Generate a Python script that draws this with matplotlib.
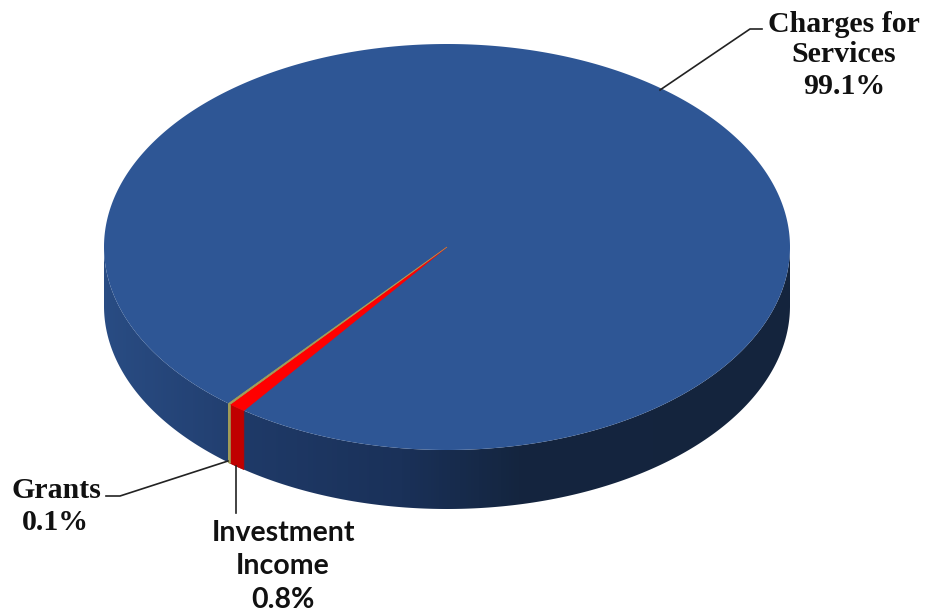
import numpy as np
import matplotlib
matplotlib.use('Agg')
import matplotlib.pyplot as plt
from matplotlib.patches import Polygon

labels = ['Charges for\nServices', 'Investment\nIncome', 'Grants']
shares = [99.1, 0.8, 0.1]
pct_text = ['99.1%', '0.8%', '0.1%']
top_colors = ['#2e5695', '#ff0000', '#a3a259']
side_colors = ['#2a4f88', '#c00000', '#a09c58']

# pie geometry, in pixels
cx, cy = 447, 247
rx, ry = 343, 203
depth = 59
start = 129.2   # degrees, measured on screen with y pointing down

fig = plt.figure(figsize=(9.26, 6.14), dpi=100)
ax = fig.add_axes([0, 0, 1, 1])
ax.axis('off')


def rim(a0, a1):
    t = np.radians(np.linspace(a0, a1, max(int(abs(a1 - a0) * 2), 2) + 1))
    return cx + rx * np.cos(t), cy + ry * np.sin(t)


def side_poly(a0, a1):
    x, y = rim(a0, a1)
    return np.r_[np.c_[x, y], np.c_[x[::-1], y[::-1] + depth]]


# side wall of the big slice, shaded left to right
stops_x = [104, 230, 243, 400, 520, 790]
stops_c = ['#294c83', '#223f70', '#1f3a68', '#1a3159', '#14253f', '#14243d']
cmap = matplotlib.colors.LinearSegmentedColormap.from_list(
    'wall', [((x - 104) / 686, c) for x, c in zip(stops_x, stops_c)])
grad = np.linspace(0, 1, 686).reshape(1, -1)
im = ax.imshow(grad, cmap=cmap, extent=[104, 790, 510, 240], aspect='auto', zorder=1)
wall = Polygon(side_poly(0, 180), closed=True, transform=ax.transData, fc='none', ec='none')
ax.add_patch(wall)
im.set_clip_path(wall)
ax.set_xlim(0, 926)
ax.set_ylim(614, 0)

# side walls of the two thin slices
a_inv0 = start
a_inv1 = start - shares[1] * 3.6
a_gr1 = start + shares[2] * 3.6
ax.add_patch(Polygon(side_poly(a_inv1, a_inv0), closed=True, fc=side_colors[1], ec=side_colors[1], lw=0.5, zorder=2))
ax.add_patch(Polygon(side_poly(a_inv0, a_gr1), closed=True, fc=side_colors[2], ec=side_colors[2], lw=0.8, zorder=2))

# top face
x, y = rim(0, 360)
ax.add_patch(Polygon(np.c_[x, y], closed=True, fc=top_colors[0], ec='none', zorder=3))
for a0, a1, c in [(a_inv1, a_inv0, top_colors[1]), (a_inv0, a_gr1, top_colors[2])]:
    x, y = rim(a0, a1)
    ax.add_patch(Polygon(np.r_[[[cx, cy]], np.c_[x, y]], closed=True, fc=c, ec=c, lw=0.5, zorder=4))

# leader lines
line_kw = dict(color='#222222', lw=1.2, zorder=5)
ax.plot([660, 750, 762], [90, 29, 29], **line_kw)
ax.plot([228, 120, 106], [461, 496, 496], **line_kw)
ax.plot([236, 236], [466, 513], **line_kw)

serif = dict(family='Liberation Serif', weight='bold', color='#111111', ha='center', va='center', fontsize=21.5)
sans = dict(family='Lato', weight='bold', color='#111111', ha='center', va='center', fontsize=20.5)

charges = labels[0].split('\n')
invest = labels[1].split('\n')
ax.text(844, 24, charges[0], **serif)
ax.text(844, 55, charges[1], **serif)
ax.text(844, 87, pct_text[0], **serif)
ax.text(56, 490, labels[2], **serif)
ax.text(55, 523, pct_text[2], **serif)
ax.text(283, 533, invest[0], **sans)
ax.text(283, 566, invest[1], **sans)
ax.text(283, 600, pct_text[1], **sans)

fig.savefig('out.png', dpi=100)
